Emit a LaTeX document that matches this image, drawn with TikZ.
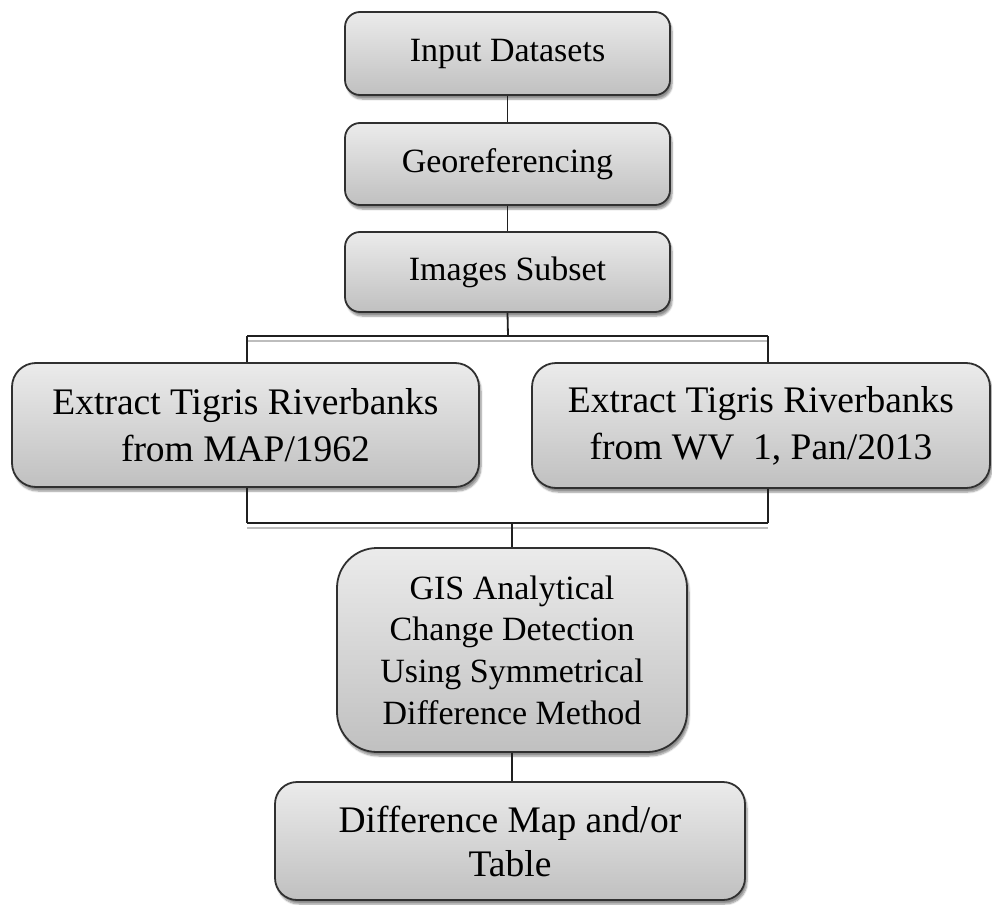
\documentclass[tikz,border=0pt]{standalone}
\usepackage{fontspec}
\setmainfont{Liberation Serif}
\usetikzlibrary{shadows.blur}
\definecolor{boxtop}{HTML}{EBEBEB}
\definecolor{boxbot}{HTML}{C0C0C0}
\definecolor{boxline}{HTML}{303030}
\definecolor{connline}{HTML}{202020}
\definecolor{lightline}{HTML}{BDBDBD}
\tikzset{
  flowbox/.style={rectangle, draw=boxline, line width=1.8pt, top color=boxtop, bottom color=boxbot,
    inner sep=0pt, align=center, text=black,
    blur shadow={shadow xshift=2pt, shadow yshift=-4pt, shadow blur steps=6, shadow opacity=45}},
  smallbox/.style={flowbox, rounded corners=15pt, font=\fontsize{34}{40}\selectfont},
  bigbox/.style={flowbox, rounded corners=24pt, font=\fontsize{37.5}{47}\selectfont},
  conn/.style={draw=connline, line width=1.8pt},
  light/.style={draw=lightline, line width=1.6pt}
}
\begin{document}
\begin{tikzpicture}[x=1pt,y=-1pt]
\useasboundingbox (0,0) rectangle (992,904);
\node[smallbox, minimum width=325pt, minimum height=83pt] (in) at (507.5,53.5) {Input Datasets};
\node[smallbox, minimum width=325pt, minimum height=82pt] (geo) at (507.5,164) {Georeferencing};
\node[smallbox, minimum width=325pt, minimum height=80pt] (sub) at (507.5,272) {Images Subset};
\node[bigbox, minimum width=467pt, minimum height=124pt] (left) at (245.5,425) {Extract Tigris Riverbanks\\from MAP/1962};
\node[bigbox, minimum width=458pt, minimum height=125pt] (right) at (761,425.5) {Extract Tigris Riverbanks\\from WV\ \ 1, Pan/2013};
\node[flowbox, rounded corners=40pt, minimum width=350pt, minimum height=204pt, font=\fontsize{34}{41.7}\selectfont] (gis) at (512,650) {GIS Analytical\\Change Detection\\Using Symmetrical\\Difference Method};
\node[bigbox, rounded corners=22pt, minimum width=470pt, minimum height=118pt, font=\fontsize{37.5}{44}\selectfont] (diff) at (510,841) {Difference Map and/or\\Table};

% connectors
\draw[conn] (in.south) -- (geo.north);
\draw[conn] (geo.south) -- (sub.north);
\coordinate (tb) at (508,336);
\coordinate (tl) at (247,336);
\coordinate (tr) at (768,336);
\draw[light] (247,341) -- (768,341);
\draw[conn] (tl) -- (tr);
\draw[conn] (sub.south) -- (tb);
\draw[conn] (tl) -- (tl |- left.north);
\draw[conn] (tr) -- (tr |- right.north);
\coordinate (bl) at (247,523);
\coordinate (br) at (768,523);
\coordinate (bm) at (512,523);
\draw[light] (247,528) -- (768,528);
\draw[conn] (bl) -- (br);
\draw[conn] (bl |- left.south) -- (bl);
\draw[conn] (br |- right.south) -- (br);
\draw[conn] (bm) -- (gis.north);
\draw[conn] (gis.south) -- (gis.south |- diff.north);
\end{tikzpicture}
\end{document}
